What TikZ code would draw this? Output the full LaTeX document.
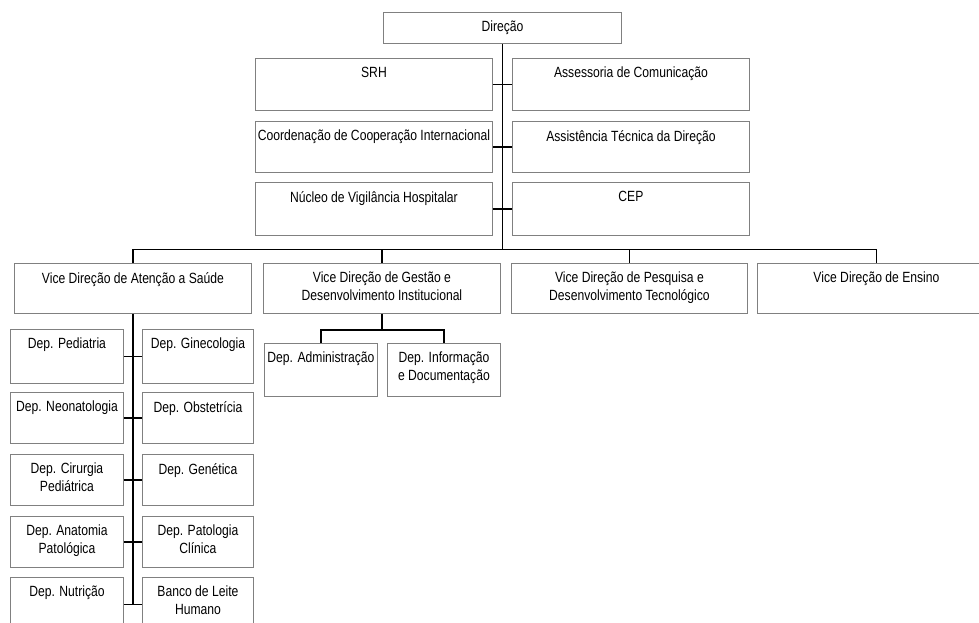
\documentclass[tikz,border=0pt]{standalone}
\usepackage{fontspec}
\setmainfont{Liberation Sans}[FakeStretch=0.82]
\definecolor{boxgray}{RGB}{128,128,128}
\newcommand\orgbox[6]{%
  \node[box, minimum width={#4-#2}, minimum height={#5-#3}] (#1) at (#2,#3) {};
  \node[lbl] (#1-t) at ([yshift=-9pt]#1.north) {#6};
}
\begin{document}
\begin{tikzpicture}[x=1pt,y=-1pt,
  box/.style={draw=boxgray, line width=0.9pt, fill=white, inner sep=0pt, anchor=north west},
  lbl/.style={font=\fontsize{14.8}{17.5}\selectfont, align=center, inner sep=0pt, anchor=north},
  conn/.style={draw=black, line width=1.2pt}]
\useasboundingbox (0,0) rectangle (979,623);
\clip (0,0) rectangle (979,623);
% Direction
\node[box, minimum width=238, minimum height=31] (dir) at (383,12) {};
\node[font=\fontsize{14.8}{17.5}\selectfont, inner sep=0pt] (dir-t) at (dir.center) {Direção};
% staff boxes
\orgbox{srh}{255}{58}{492}{110}{SRH}
\orgbox{asc}{512}{58}{749}{110}{Assessoria de Comunicação}
\orgbox{cci}{255}{121}{492}{172}{Coordenação de Cooperação Internacional}
\orgbox{atd}{512}{121}{749}{172}{Assistência Técnica da Direção}
\orgbox{nvh}{255}{182}{492}{235}{Núcleo de Vigilância Hospitalar}
\orgbox{cep}{512}{182}{749}{235}{CEP}
% vice directions
\orgbox{v1}{14}{263}{251}{313}{Vice Direção de Atenção a Saúde}
\orgbox{v2}{263}{263}{500}{313}{Vice Direção de Gestão e\\Desenvolvimento Institucional}
\orgbox{v3}{511}{263}{747}{313}{Vice Direção de Pesquisa e\\Desenvolvimento Tecnológico}
\orgbox{v4}{757}{263}{995}{313}{Vice Direção de Ensino}
% departments of v1
\orgbox{p1}{10}{329}{123}{383}{Dep. Pediatria}
\orgbox{g1}{142}{329}{253}{383}{Dep. Ginecologia}
\orgbox{p2}{10}{392}{123}{443}{Dep. Neonatologia}
\orgbox{g2}{142}{392}{253}{443}{Dep. Obstetrícia}
\orgbox{p3}{10}{454}{123}{505}{Dep. Cirurgia\\Pediátrica}
\orgbox{g3}{142}{454}{253}{505}{Dep. Genética}
\orgbox{p4}{10}{516}{123}{567}{Dep. Anatomia\\Patológica}
\orgbox{g4}{142}{516}{253}{567}{Dep. Patologia\\Clínica}
\orgbox{p5}{10}{577}{123}{631}{Dep. Nutrição}
\orgbox{g5}{142}{577}{253}{631}{Banco de Leite\\Humano}
% departments of v2
\orgbox{adm}{264}{343}{377}{396}{Dep. Administração}
\orgbox{inf}{387}{343}{500}{396}{Dep. Informação\\e Documentação}
% connectors
\coordinate (bar) at (0,249.5);
\coordinate (bar2) at (0,330);
\draw[conn] (dir.south) -- (dir.south |- bar);
\draw[conn] (srh.east) -- (asc.west);
\draw[conn] (cci.east) -- (atd.west);
\draw[conn] (nvh.east) -- (cep.west);
\draw[conn] (v1.north) -- (v1.north |- bar) -- (v4.north |- bar) -- (v4.north);
\draw[conn] (v2.north |- bar) -- (v2.north);
\draw[conn] (v3.north |- bar) -- (v3.north);
\draw[conn] (v1.south) -- (v1.south |- p5.east);
\draw[conn] (p1.east) -- (g1.west);
\draw[conn] (p2.east) -- (g2.west);
\draw[conn] (p3.east) -- (g3.west);
\draw[conn] (p4.east) -- (g4.west);
\draw[conn] (p5.east) -- (g5.west);
\draw[conn] (v2.south) -- (v2.south |- bar2);
\draw[conn] (adm.north) -- (adm.north |- bar2) -- (inf.north |- bar2) -- (inf.north);
\end{tikzpicture}
\end{document}
